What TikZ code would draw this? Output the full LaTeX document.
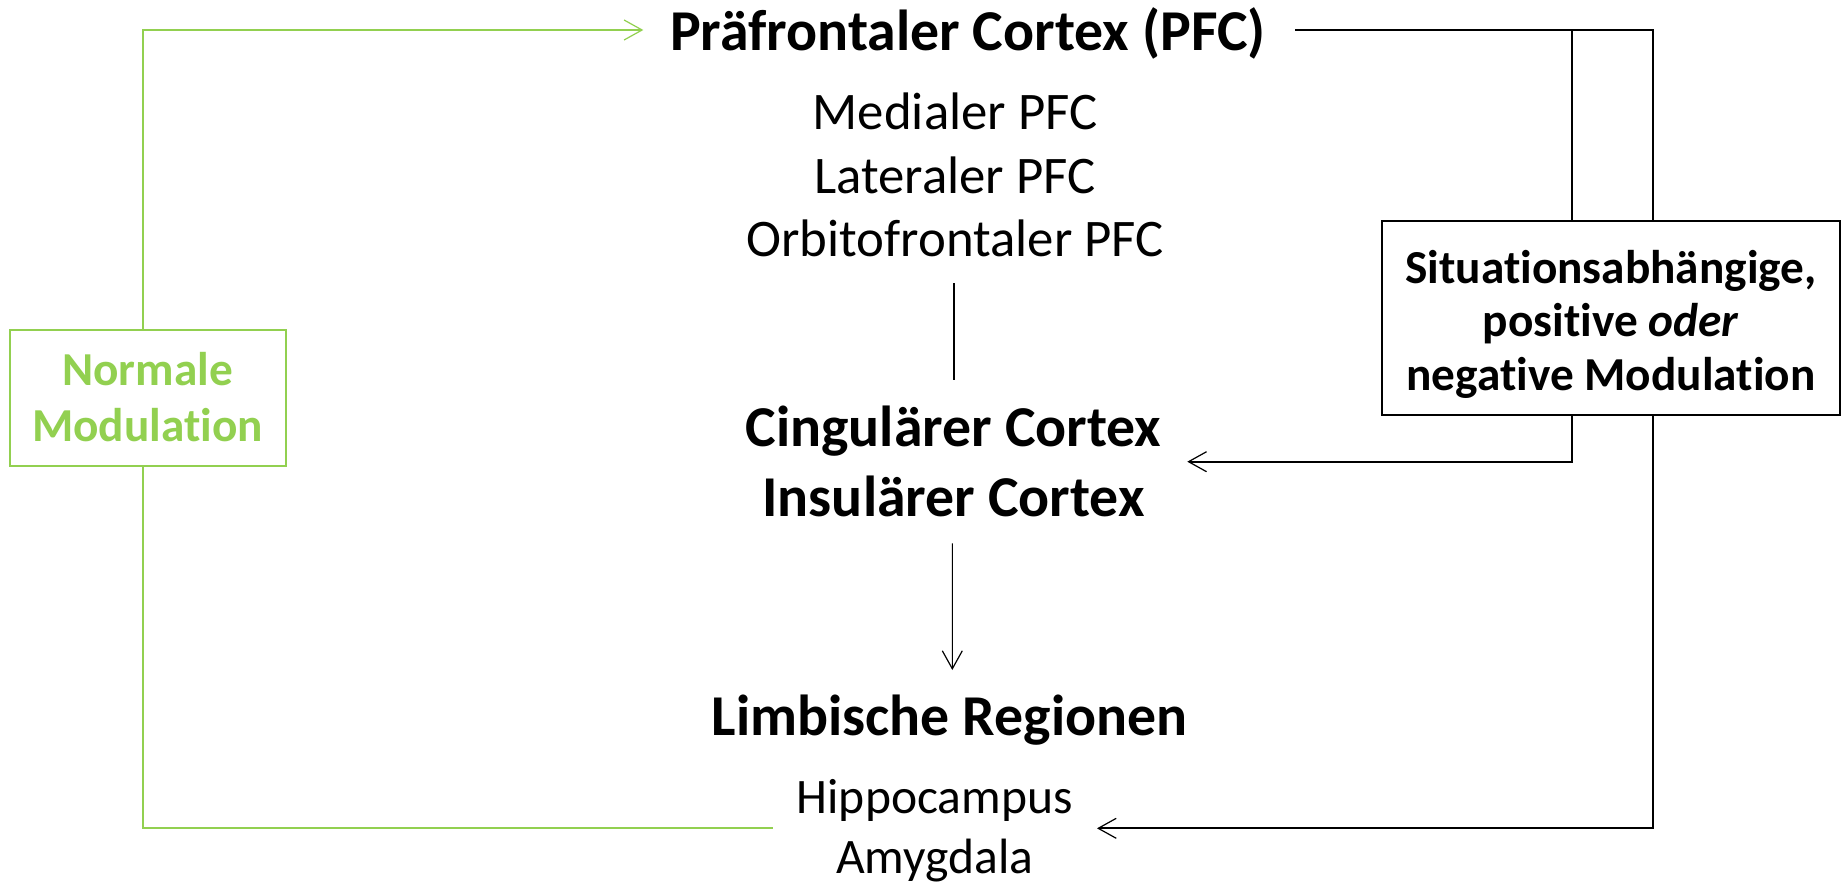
\documentclass[tikz,border=0pt]{standalone}
\usepackage{fontspec}
\setmainfont{Carlito}[Ligatures={NoCommon}]
\usetikzlibrary{arrows.meta,calc}
\definecolor{modgreen}{HTML}{92D050}
\begin{document}
\begin{tikzpicture}[x=0.5pt,y=-0.5pt,
  txt/.style={inner sep=0pt,anchor=base},
  headfont/.style={font=\fontsize{28.9}{34}\selectfont\bfseries},
  pfcfont/.style={font=\fontsize{26.4}{32}\selectfont},
  limfont/.style={font=\fontsize{24.8}{30}\selectfont},
  boxfont/.style={font=\fontsize{23.65}{28}\selectfont\bfseries},
  heavy/.style={line width=1pt},
  thinline/.style={line width=0.55pt},
  gline/.style={draw=modgreen,line width=0.9pt},
  tip/.style={-{Straight Barb[length=9pt,width=10pt,line width=0.6pt]}},
  modbox/.style={draw,line width=1pt,fill=white,inner sep=0pt},
  greenbox/.style={draw=modgreen,line width=0.9pt,fill=white,inner sep=0pt},
]
\useasboundingbox (0,0) rectangle (1845,884);

% central column
\node[txt,headfont] (pfc)  at (968,50)      {Präfrontaler Cortex (PFC)};
\node[txt,pfcfont]  (med)  at (955,129.3)   {Medialer PFC};
\node[txt,pfcfont]  (lat)  at (955,193.3)   {Lateraler PFC};
\node[txt,pfcfont]  (orb)  at (955,256.7)   {Orbitofrontaler PFC};
\node[txt,headfont] (cing) at (953.5,446.7) {Cingulärer Cortex};
\node[txt,headfont] (insu) at (953.5,516.7) {Insulärer Cortex};
\node[txt,headfont] (limb) at (949.5,735)   {Limbische Regionen};
\node[txt,limfont]  (hip)  at (934.7,813.3) {Hippocampus};
\node[txt,limfont]  (amy)  at (934.7,873.3) {Amygdala};

% modulation boxes
\node[modbox,minimum width=229.15pt,minimum height=97.15pt] (sit) at (1610.85,317.85) {};
\node[txt,boxfont] (sit1) at (1610.85,283)   {Situationsabhängige,};
\node[txt,boxfont] (sit2) at (1610.85,336.5) {positive \textit{oder}};
\node[txt,boxfont] (sit3) at (1610.85,390)   {negative Modulation};

\node[greenbox,minimum width=138pt,minimum height=67.85pt] (norm) at (148,397.85) {};
\node[txt,boxfont,text=modgreen] (norm1) at (147.5,385)   {Normale};
\node[txt,boxfont,text=modgreen] (norm2) at (147.5,441.7) {Modulation};

% free ends of the loops
\coordinate (gin)     at (772.7,828.3);
\coordinate (gout)    at (643.3,30);
\coordinate (bstart)  at (1295,30);
\coordinate (cingtip) at (1187.3,461.7);
\coordinate (hiptip)  at (1097,828.3);
\coordinate (sitinT)  at ($(sit.north)+(-39.2,0)$);
\coordinate (sitinB)  at ($(sit.south)+(-39.2,0)$);
\coordinate (sitoutT) at ($(sit.north)+(42.4,0)$);
\coordinate (sitoutB) at ($(sit.south)+(42.4,0)$);
\coordinate (normT)   at ($(norm.north)+(-5.3,0)$);
\coordinate (normB)   at ($(norm.south)+(-5.3,0)$);

% normal modulation loop
\draw[gline] (gin) -| (normB);
\draw[gline,tip] (normT) |- (gout);

% situation-dependent modulation
\draw[heavy] (bstart) -| (sitoutT);
\draw[heavy] (sitinT) -- (sitinT |- bstart);
\draw[heavy,tip] (sitinB) |- (cingtip);
\draw[heavy,tip] (sitoutB) |- (hiptip);

% vertical links in the column
\draw[thinline] ($(orb.base)+(-1,26.3)$) -- ($(cing.base)+(0.5,-66.7)$);
\draw[thinline,tip] ($(insu.base)+(-1.2,26.6)$) -- ($(limb.base)+(2.8,-65)$);
\end{tikzpicture}
\end{document}
